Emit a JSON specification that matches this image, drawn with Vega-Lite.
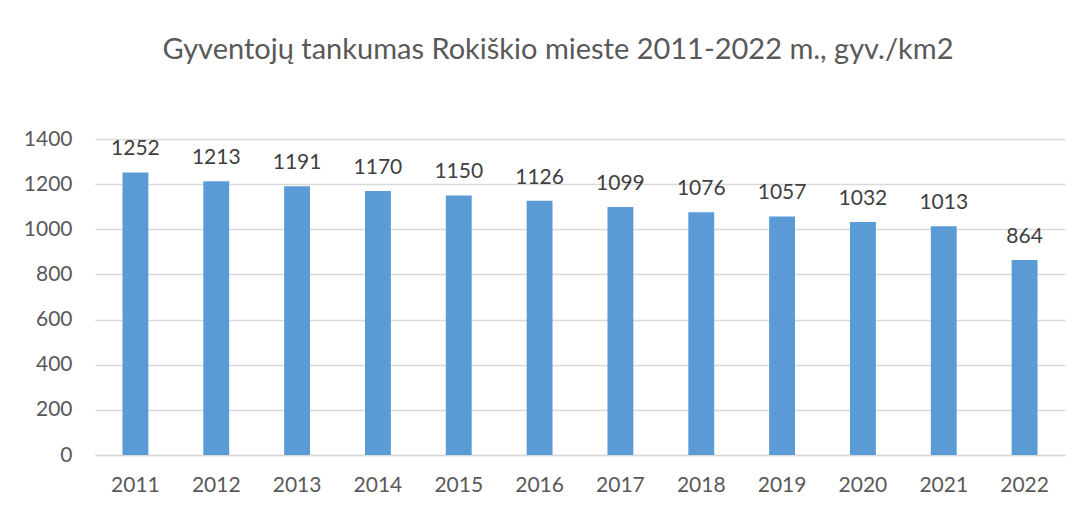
{
  "$schema": "https://vega.github.io/schema/vega-lite/v6.json",
  "autosize": {"type": "none"},
  "width": 970,
  "height": 316,
  "padding": {"left": 95, "top": 139, "right": 16, "bottom": 55},
  "background": "white",
  "title": {
    "text": "Gyventojų tankumas Rokiškio mieste 2011-2022 m., gyv./km2",
    "font": "Lato",
    "fontSize": 29,
    "fontWeight": "normal",
    "color": "#595959",
    "anchor": "middle",
    "dx": -22,
    "offset": 63
  },
  "config": {
    "view": {"stroke": null},
    "font": "Lato"
  },
  "data": {
    "values": [
      {"year": "2011", "value": 1252},
      {"year": "2012", "value": 1213},
      {"year": "2013", "value": 1191},
      {"year": "2014", "value": 1170},
      {"year": "2015", "value": 1150},
      {"year": "2016", "value": 1126},
      {"year": "2017", "value": 1099},
      {"year": "2018", "value": 1076},
      {"year": "2019", "value": 1057},
      {"year": "2020", "value": 1032},
      {"year": "2021", "value": 1013},
      {"year": "2022", "value": 864}
    ]
  },
  "encoding": {
    "x": {
      "field": "year",
      "type": "ordinal",
      "scale": {"paddingInner": 0.68, "paddingOuter": 0.34},
      "axis": {
        "title": null,
        "labelAngle": 0,
        "labelFont": "Lato",
        "labelFontSize": 21,
        "labelColor": "#595959",
        "labelPadding": 19,
        "ticks": false,
        "domainColor": "#D9D9D9",
        "domainWidth": 1.5
      }
    },
    "y": {
      "field": "value",
      "type": "quantitative",
      "scale": {"domain": [0, 1400], "nice": false},
      "axis": {
        "title": null,
        "format": "d",
        "values": [0, 200, 400, 600, 800, 1000, 1200, 1400],
        "labelFont": "Lato",
        "labelFontSize": 21,
        "labelColor": "#595959",
        "labelPadding": 23,
        "ticks": false,
        "domain": false,
        "gridColor": "#D9D9D9",
        "gridWidth": 1.5
      }
    }
  },
  "layer": [
    {"mark": {"type": "bar", "color": "#5B9BD5"}},
    {
      "mark": {
        "type": "text",
        "baseline": "bottom",
        "dy": -13,
        "font": "Lato",
        "fontSize": 21,
        "color": "#404040"
      },
      "encoding": {"text": {"field": "value", "type": "quantitative", "format": "d"}}
    }
  ]
}
